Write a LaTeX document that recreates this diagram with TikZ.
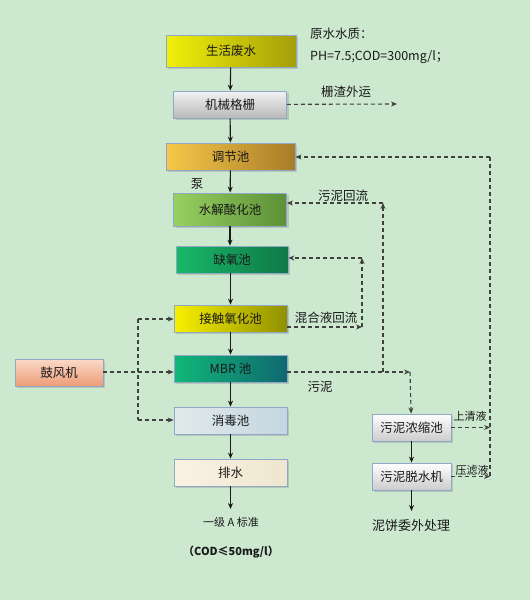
\documentclass[tikz,border=0pt]{standalone}
\usepackage{fontspec}
\setmainfont{Noto Sans CJK SC}
\usepackage{xcolor}
\usepackage{tikz}
\usetikzlibrary{shadows, arrows.meta}

\definecolor{bgreen}{RGB}{204,232,207}
\definecolor{boxline}{RGB}{144,168,200}
\definecolor{wasteL}{RGB}{240,240,10}
\definecolor{wasteR}{RGB}{165,158,10}
\definecolor{equalL}{RGB}{248,200,72}
\definecolor{equalR}{RGB}{168,124,40}
\definecolor{hydroL}{RGB}{152,208,96}
\definecolor{hydroR}{RGB}{92,144,56}
\definecolor{anoxL}{RGB}{24,184,104}
\definecolor{anoxR}{RGB}{16,120,72}
\definecolor{contL}{RGB}{248,240,0}
\definecolor{contR}{RGB}{144,144,0}
\definecolor{mbrL}{RGB}{16,184,120}
\definecolor{mbrR}{RGB}{16,104,112}
\definecolor{disL}{RGB}{226,234,234}
\definecolor{disR}{RGB}{196,214,224}
\definecolor{drainL}{RGB}{250,242,228}
\definecolor{drainR}{RGB}{238,230,206}
\definecolor{blowT}{RGB}{250,218,200}
\definecolor{blowB}{RGB}{238,156,120}

\begin{document}
\begin{tikzpicture}[x=1pt, y=-1pt, font=\fontsize{12.5}{15}\selectfont]
    % Define styles
    \tikzstyle{tank} = [rectangle, draw=boxline, line width=0.8pt, minimum width=113pt, minimum height=27pt, inner sep=0pt, text=black!90, drop shadow={shadow xshift=2pt, shadow yshift=-2pt, opacity=0.3}]
    \tikzstyle{arrow} = [->, >={Stealth[length=6pt, width=5pt]}, line width=1.1pt, black!90]
    \tikzstyle{dasharrow} = [->, >={Stealth[length=6pt, width=5pt]}, line width=1.1pt, black!75, dash pattern=on 4pt off 3pt]
    \tikzstyle{dashline} = [line width=1.1pt, black!75, dash pattern=on 4pt off 3pt]
    \tikzstyle{note} = [inner sep=0pt, text=black!90]

    \path[use as bounding box, fill=bgreen] (0,0) rectangle (530,600);

    % Nodes
    \node[tank, minimum width=130pt, minimum height=32pt, left color=wasteL, right color=wasteR] (waste) at (231,51) {生活废水};
    \node[tank, top color=gray!10, bottom color=gray!55] (screen) at (230,104.5) {机械格栅};
    \node[tank, minimum width=129pt, left color=equalL, right color=equalR] (equal) at (230.5,156.5) {调节池};
    \node[tank, minimum height=33pt, left color=hydroL, right color=hydroR] (hydro) at (230,209.5) {水解酸化池};
    \node[tank, minimum width=112pt, left color=anoxL, right color=anoxR] (anoxic) at (232,259.5) {缺氧池};
    \node[tank, left color=contL, right color=contR] (contact) at (230.5,318.5) {接触氧化池};
    \node[tank, left color=mbrL, right color=mbrR] (mbr) at (230.5,368.5) {MBR 池};
    \node[tank, left color=disL, right color=disR] (disinf) at (230.5,420.5) {消毒池};
    \node[tank, left color=drainL, right color=drainR] (drain) at (230.5,472.5) {排水};
    \node[tank, minimum width=88pt, top color=blowT, bottom color=blowB] (blower) at (59,372.5) {鼓风机};
    \node[tank, minimum width=79pt, top color=white, bottom color=gray!40] (thick) at (411.5,427.5) {污泥浓缩池};
    \node[tank, minimum width=79pt, top color=white, bottom color=gray!40] (dewater) at (411.5,476.5) {污泥脱水机};

    \node[note, anchor=west] (rawq) at (310,34) {原水水质：};
    \node[note, anchor=west] (rawcod) at (310,57) {PH=7.5;COD=300mg/l；};
    \node[note] (scrlbl) at (346,92) {栅渣外运};
    \node[note] (pump) at (197,184) {泵};
    \node[note] (retlbl) at (343,196) {污泥回流};
    \node[note] (mixlbl) at (326,318) {混合液回流};
    \node[note] (sludlbl) at (320,387) {污泥};
    \node[note, font=\fontsize{11}{13}\selectfont] (toplbl) at (470,416) {上清液};
    \node[note, font=\fontsize{11}{13}\selectfont] (presslbl) at (472,470) {压滤液};
    \node[note, font=\fontsize{13}{15}\selectfont] (cake) at (411,526) {泥饼委外处理};
    \node[note, font=\fontsize{11}{13}\selectfont] (grade) at (231,522) {一级 A 标准};
    \node[note, font=\fontsize{11}{13}\selectfont\bfseries] (limit) at (231,552) {（COD≤50mg/l）};

    \coordinate (scrend) at (397,104);
    \coordinate (rettop) at (490,157);
    \coordinate (retbot) at (490,479);
    \coordinate (sludtop) at (383,203);
    \coordinate (sludbot) at (383,372);
    \coordinate (mixtop) at (362,258);
    \coordinate (mixbot) at (362,327);
    \coordinate (mbrturn) at (410,372);
    \coordinate (airtop) at (138,319);
    \coordinate (airbot) at (138,420);
    \coordinate (outend) at (230.5,509);
    \coordinate (cakeend) at (411.5,511);

    % Arrows
    \draw[arrow] (waste) -- (screen);
    \draw[arrow] (screen) -- (equal);
    \draw[arrow] (equal) -- (hydro);
    \draw[arrow] (hydro) -- (hydro.south |- anoxic.north);
    \draw[arrow] (anoxic.south -| contact) -- (contact);
    \draw[arrow] (contact) -- (mbr);
    \draw[arrow] (mbr) -- (disinf);
    \draw[arrow] (disinf) -- (drain);
    \draw[arrow] (drain) -- (outend);
    \draw[arrow] (thick) -- (dewater);
    \draw[arrow] (dewater) -- (cakeend);

    \draw[dasharrow] (screen) -- (scrend);
    \draw[dashline] (rettop) -- (retbot);
    \draw[dasharrow] (rettop) -- (equal.east |- rettop);
    \draw[dasharrow] (thick.east) -- (thick.east -| rettop);
    \draw[dasharrow] (dewater.east) -- (dewater.east -| rettop);

    \draw[dasharrow] (mbr.east |- sludbot) -- (mbrturn);
    \draw[dasharrow] (mbrturn) -- (thick);
    \draw[dasharrow] (sludbot) -- (sludtop);
    \draw[dasharrow] (sludtop) -- (hydro.east |- sludtop);

    \draw[dasharrow] (contact.east |- mixbot) -- (mixbot);
    \draw[dasharrow] (mixbot) -- (mixtop);
    \draw[dasharrow] (mixtop) -- (anoxic.east |- mixtop);

    \draw[dasharrow] (blower.east |- sludbot) -- (mbr.west |- sludbot);
    \draw[dashline] (airtop) -- (airbot);
    \draw[dasharrow] (airtop) -- (contact.west |- airtop);
    \draw[dasharrow] (airbot) -- (disinf.west |- airbot);
\end{tikzpicture}
\end{document}
